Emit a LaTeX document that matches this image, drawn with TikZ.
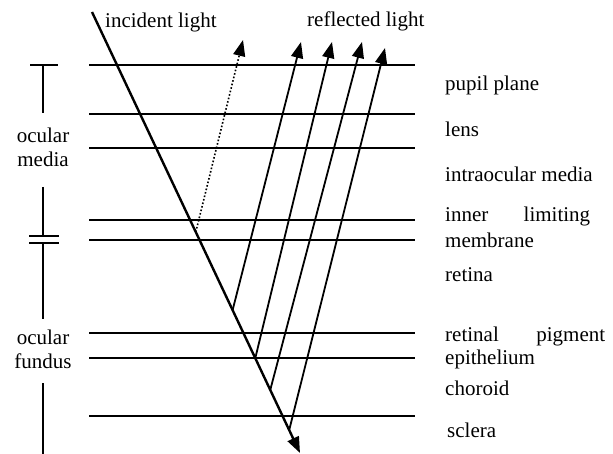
\documentclass[tikz,border=0pt]{standalone}
\usepackage{fontspec}
\setmainfont{Liberation Serif}
\usetikzlibrary{arrows.meta,positioning,calc}

\begin{document}
\begin{tikzpicture}[x=1pt,y=-1pt,
  lbl/.style={font=\fontsize{21}{24}\selectfont, inner sep=0pt, anchor=base west, align=left},
  layer/.style={line width=1.8pt},
  ray/.style={line width=1.8pt, -{Triangle[length=16pt,width=12pt]}}]
  \useasboundingbox (0,0) rectangle (613,454);

  % 層の境界
  \foreach \y in {65,114,148,220,240,333,358,416}
    \draw[layer] (89,\y) -- (415,\y);

  % 左の区分
  \draw[layer] (30,65) -- (58,65) (43,65) -- (43,113);
  \draw[layer] (43,187) -- (43,236) (29,236) -- (59,236);
  \draw[layer] (29,243) -- (59,243) (43,243) -- (43,319);
  \draw[layer] (43,383) -- (43,454);
  \node[lbl, anchor=base, align=center] (ocmedia) at (43,167) {ocular\\media};
  \node[lbl, anchor=base, align=center] (fundus) at (43,368) {ocular\\fundus};

  % 入射光
  \coordinate (src) at (92,12);
  \coordinate (sink) at (300,453);
  \draw[ray, line width=2.4pt] (src) -- (sink);

  % 反射点と矢印の先
  \coordinate (r0) at ($(src)!0.499!(sink)$);
  \coordinate (r1) at ($(src)!0.676!(sink)$);
  \coordinate (r2) at ($(src)!0.785!(sink)$);
  \coordinate (r3) at ($(src)!0.857!(sink)$);
  \coordinate (r4) at ($(src)!0.948!(sink)$);
  \coordinate (t0) at (243,40);
  \coordinate (t1) at (301,42);
  \coordinate (t2) at (332,42);
  \coordinate (t3) at (362,42);
  \coordinate (t4) at (385,48);

  % 反射光
  \draw[ray, line width=1.6pt, dotted] (r0) -- (t0);
  \draw[ray] (r1) -- (t1);
  \draw[ray] (r2) -- (t2);
  \draw[ray] (r3) -- (t3);
  \draw[ray] (r4) -- (t4);

  % ラベル
  \node[lbl] (incident) at (105,28) {incident light};
  \node[lbl] (reflected) at (307,27) {reflected light};
  \node[lbl] (pupil) at (445,91) {pupil plane};
  \node[lbl] (lens) at (445,137) {lens};
  \node[lbl] (intra) at (445,182) {intraocular media};
  \node[lbl, font=\fontsize{21}{26}\selectfont] (ilm) at (445,248) {\makebox[145pt][s]{inner limiting}\\membrane};
  \node[lbl, font=\fontsize{21}{23}\selectfont] (retina) at (445,282) {retina};
  \node[lbl, font=\fontsize{21}{23}\selectfont] (rpe) at (445,364) {\makebox[160pt][s]{retinal pigment}\\epithelium};
  \node[lbl] (choroid) at (445,395) {choroid};
  \node[lbl] (sclera) at (447,437) {sclera};
\end{tikzpicture}
\end{document}
